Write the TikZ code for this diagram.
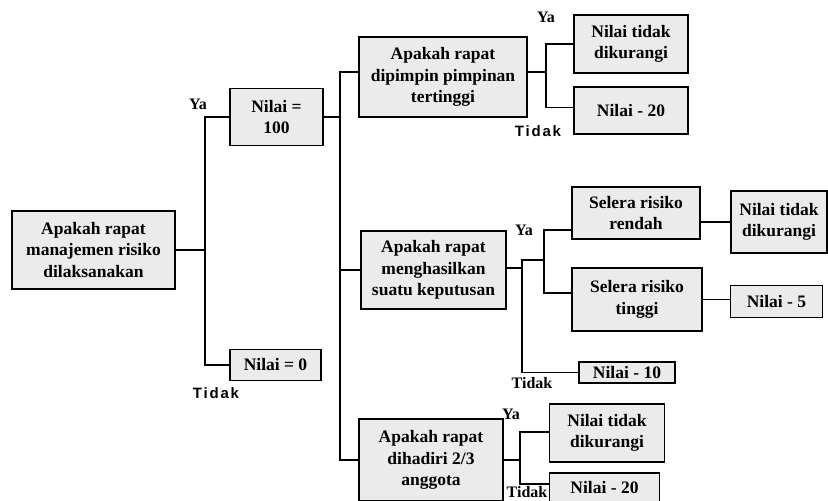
\documentclass[tikz,border=0pt]{standalone}
\usepackage{fontspec}
\setmainfont{Liberation Serif}
\newfontfamily\tidakfont[LetterSpace=12]{Liberation Sans}
\begin{document}
\begin{tikzpicture}[x=1pt,y=-1pt]
\tikzset{
  box/.style={draw, line width=1.8pt, fill=black!8, align=center, inner sep=0pt,
    font=\fontsize{17.5}{21.5}\selectfont\bfseries},
  wire/.style={line width=1.5pt},
  lblya/.style={font=\fontsize{16}{16}\selectfont\bfseries, inner sep=0pt},
  lbltidak/.style={font=\tidakfont\fontsize{15}{15}\selectfont\bfseries, inner sep=0pt},
  lbltidaks/.style={font=\fontsize{16}{16}\selectfont\bfseries, inner sep=0pt},
}
\useasboundingbox (0,0) rectangle (828,501);

% boxes
\node[box, minimum width=163pt, minimum height=78pt] (root) at (93.5,250) {Apakah rapat\\manajemen risiko\\dilaksanakan};
\node[box, minimum width=93pt, minimum height=57pt] (n100) at (276.5,117) {Nilai =\\100};
\node[box, minimum width=91pt, minimum height=31pt] (n0) at (275.5,365) {Nilai = 0};

\node[box, minimum width=168pt, minimum height=80pt] (q1) at (443,77) {Apakah rapat\\dipimpin pimpinan\\tertinggi};
\node[box, minimum width=145pt, minimum height=78pt] (q2) at (433.5,270) {Apakah rapat\\menghasilkan\\suatu keputusan};
\node[box, minimum width=144pt, minimum height=82pt] (q3) at (431,460) {Apakah rapat\\dihadiri 2/3\\anggota};

\node[box, minimum width=114pt, minimum height=58pt] (a1) at (631,44) {Nilai tidak\\dikurangi};
\node[box, minimum width=114pt, minimum height=47pt] (a2) at (631,110.5) {Nilai - 20};

\node[box, minimum width=128pt, minimum height=52pt] (s1) at (636,213) {Selera risiko\\rendah};
\node[box, minimum width=130pt, minimum height=63pt] (s2) at (637,299.5) {Selera risiko\\tinggi};
\node[box, minimum width=96pt, minimum height=62pt] (r1) at (779,222) {Nilai tidak\\dikurangi};
\node[box, minimum width=92pt, minimum height=32pt] (r2) at (776.5,301.5) {Nilai - 5};
\node[box, minimum width=96pt, minimum height=21pt] (n10) at (627,372.5) {Nilai - 10};

\node[box, minimum width=115pt, minimum height=58pt] (b1) at (607,433) {Nilai tidak\\dikurangi};
\node[box, minimum width=110pt, minimum height=30pt] (b2) at (604.5,488) {Nilai - 20};

% junctions
\coordinate (j1) at (205,250);
\coordinate (j2) at (340,117);
\coordinate (j3) at (546,72);
\coordinate (j4) at (522,260);
\coordinate (j5) at (544,260);
\coordinate (j6) at (520,460);

% connectors
\draw[wire] (root.east) -- (j1);
\draw[wire] (n100.west) -- (n100.west -| j1) -- (n0.west -| j1) -- (n0.west);

\draw[wire] (n100.east) -- (j2);
\draw[wire] ([yshift=5pt]q1.west) -- ([yshift=5pt]q1.west -| j2) -- (q3.west -| j2) -- (q3.west);
\draw[wire] (q2.west) -- (q2.west -| j2);

\draw[wire] ([yshift=5pt]q1.east) -- (j3);
\draw[wire] (a1.west) -- (a1.west -| j3) -- ([yshift=3pt]a2.west -| j3) -- ([yshift=3pt]a2.west);

\draw[wire] ([yshift=2pt]q2.east) -- ([yshift=2pt]q2.east -| j4);
\draw[wire] (j5) -- (j4) -- (n10.west -| j4) -- (n10.west);
\draw[wire] ([yshift=-17pt]s1.west) -- ([yshift=-17pt]s1.west -| j5) -- ([yshift=6.5pt]s2.west -| j5) -- ([yshift=6.5pt]s2.west);

\draw[wire] ([yshift=-9pt]s1.east) -- ([yshift=-9pt]s1.east -| r1.west);
\draw[wire] (s2.east) -- (s2.east -| r2.west);

\draw[wire] (q3.east) -- (j6);
\draw[wire] ([yshift=1pt]b1.west) -- ([yshift=1pt]b1.west -| j6) -- ([yshift=4pt]b2.west -| j6) -- ([yshift=4pt]b2.west);

% labels
\node[lblya] (ya1) at (198,104) {Ya};
\node[lbltidak] (td1) at (216,393) {Tidak};
\node[lblya] (ya2) at (546,17) {Ya};
\node[lbltidak] (td2) at (538,131) {Tidak};
\node[lblya] (ya3) at (524,230) {Ya};
\node[lbltidaks] (td3) at (532,383) {Tidak};
\node[lblya] (ya4) at (511,414) {Ya};
\node[lbltidaks] (td4) at (527,492) {Tidak};
\end{tikzpicture}
\end{document}
